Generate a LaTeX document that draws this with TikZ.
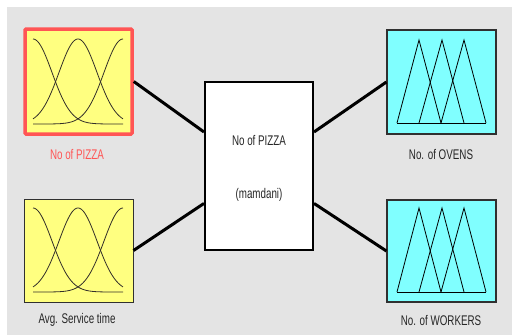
\documentclass[tikz,border=0pt]{standalone}
\usepackage{fontspec}
\newfontfamily\narrowsans[FakeStretch=0.7]{Liberation Sans}
\usetikzlibrary{calc}
\definecolor{panelgrey}{HTML}{E4E4E4}
\definecolor{mfyellow}{HTML}{FFFF80}
\definecolor{mfcyan}{HTML}{80FFFF}
\definecolor{selred}{HTML}{FF5555}
\definecolor{boxedge}{HTML}{303030}
\definecolor{labeltext}{HTML}{262626}
\begin{document}
\begin{tikzpicture}[x=1pt,y=-1pt,
  inbox/.style={draw=boxedge,line width=1pt,fill=mfyellow,inner sep=0pt,minimum width=109pt,minimum height=103pt},
  outbox/.style={draw=boxedge,line width=1.2pt,fill=mfcyan,inner sep=0pt,minimum width=109pt,minimum height=103pt},
  rulebox/.style={draw=black,line width=2pt,fill=white,inner sep=0pt,minimum width=108pt,minimum height=168pt},
  varlabel/.style={font=\narrowsans\fontsize{14}{16}\selectfont,text=labeltext,inner sep=0pt},
  link/.style={line width=3pt,black},
  mfcurve/.style={line width=0.8pt,draw=black!85!olive},
  mftri/.style={line width=0.8pt,draw=black}]
% canvas
\useasboundingbox (0,0) rectangle (514,335);
\fill[panelgrey] (7,7) rectangle (512,335);

% input variable blocks
\node[inbox,draw=selred,line width=3.5pt,rounded corners=1pt,minimum width=107pt,minimum height=105pt] (pizza) at (78.5,81.5) {};
\node[inbox] (service) at (78.5,250.5) {};
% inference block
\node[rulebox] (fis) at (259,166) {};
% output variable blocks
\node[outbox,minimum height=104pt] (ovens) at (441.5,82) {};
\node[outbox,minimum height=102pt] (workers) at (441.5,251) {};

% labels
\node[varlabel,text=selred] (pizzalbl) at (77,154) {No of PIZZA};
\node[varlabel] (servicelbl) at (77,320) {Avg. Service time};
\node[varlabel] (ovenslbl) at (441,154) {No. of OVENS};
\node[varlabel] (workerslbl) at (441,320) {No. of WORKERS};
\node[varlabel] (fisname) at (259,140) {No of PIZZA};
\node[varlabel] (fistype) at (259,195) {(mamdani)};

% gaussian membership functions of the inputs
\foreach \yb/\yt in {124/39, 292/208}{
  \foreach \c in {33,78,123}{
    \draw[mfcurve] plot[domain=33:123,samples=70,smooth]
      (\x,{\yb-(\yb-\yt)*exp(-((\x-\c)^2)/722)});
  }
}
% triangular membership functions of the outputs
\foreach \yb/\yt in {123/40, 292/208}{
  \draw[mftri] (397,\yb) -- (486,\yb);
  \draw[mftri] (397,\yb) -- (419,\yt) -- (441,\yb);
  \draw[mftri] (419,\yb) -- (442,\yt) -- (464,\yb);
  \draw[mftri] (441,\yb) -- (464,\yt) -- (486,\yb);
}

% connections
\coordinate (fisin1) at ($(fis.north west)!0.30!(fis.south west)$);
\coordinate (fisin2) at ($(fis.north west)!0.72!(fis.south west)$);
\coordinate (fisout1) at ($(fis.north east)!0.30!(fis.south east)$);
\coordinate (fisout2) at ($(fis.north east)!0.72!(fis.south east)$);
\draw[link] (pizza.east) -- (fisin1);
\draw[link] (service.east) -- (fisin2);
\draw[link] (fisout1) -- (ovens.west);
\draw[link] (fisout2) -- (workers.west);
\end{tikzpicture}
\end{document}
